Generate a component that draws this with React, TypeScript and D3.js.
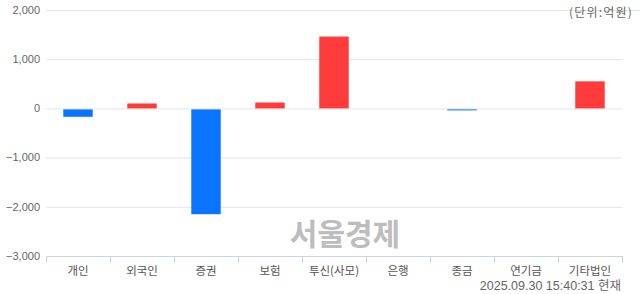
import React from "react";
import * as d3 from "d3";

const categories = ["개인", "외국인", "증권", "보험", "투신(사모)", "은행", "종금", "연기금", "기타법인"];
const values = [-150, 100, -2130, 120, 1460, 0, -20, 0, 550];
const yTicks = [2000, 1000, 0, -1000, -2000, -3000];
const unitLabel = "(단위:억원)";
const timeLabel = "2025.09.30 15:40:31 현재";
const watermark = "서울경제";

const W = 640, H = 294;
const M = { left: 46, right: 18, top: 10, bottom: 38 };
const FONT = "'Noto Sans CJK KR', 'Noto Sans', sans-serif";
const NUMFONT = "'Liberation Sans', 'Noto Sans CJK KR', sans-serif";

export default function App() {
  const x = d3.scaleBand<string>().domain(categories).range([M.left, W - M.right]).paddingInner(0.54).paddingOuter(0.27);
  const band = d3.scaleBand<string>().domain(categories).range([M.left, W - M.right]);
  const y = d3.scaleLinear().domain([-3000, 2000]).range([H - M.bottom, M.top]);
  const fmt = d3.format(",");
  const y0 = y(0);
  return (
    <svg width={W} height={H} style={{ position: "absolute", left: 0, top: 0, background: "#fff" }} fontFamily={FONT}>
      {yTicks.map((t) => (
        <g key={t}>
          {t !== -3000 && (
            <line x1={M.left} x2={t === 2000 ? W : W - M.right} y1={y(t) + 0.5} y2={y(t) + 0.5} stroke="#e3e3e3" strokeWidth={1} />
          )}
          <text x={40} y={y(t)} dy="0.35em" textAnchor="end" fontSize={11} fill="#666" fontFamily={NUMFONT}>{fmt(t)}</text>
        </g>
      ))}
      <text x={633} y={17} textAnchor="end" fontSize={12} letterSpacing={1.2} fill="#666">{unitLabel}</text>
      <text x={345} y={234} dy="0.35em" textAnchor="middle" fontSize={30} fontWeight="bold" fill="#bdbdbd">{watermark}</text>
      {categories.map((c, i) => {
        const v = values[i];
        const top = v >= 0 ? y(v) : y0 + 1;
        const h = v >= 0 ? y0 - y(v) : y(v) - y0;
        return (
          <rect key={c} x={x(c)} y={top} width={x.bandwidth()} height={Math.max(h, v === 0 ? 0 : 1)} fill={v >= 0 ? "#ff3b3b" : "#0a73ff"} />
        );
      })}
      <line x1={M.left} x2={W - M.right} y1={y(-3000) + 0.5} y2={y(-3000) + 0.5} stroke="#c9d3e3" />
      {categories.map((c) => (
        <line key={"t" + c} x1={Math.round(band(c)!) + 0.5} x2={Math.round(band(c)!) + 0.5} y1={y(-3000)} y2={y(-3000) + 7} stroke="#c9d3e3" />
      ))}
      <line x1={W - M.right + 0.5} x2={W - M.right + 0.5} y1={y(-3000)} y2={y(-3000) + 7} stroke="#c9d3e3" />
      {categories.map((c) => (
        <text key={"l" + c} x={band(c)! + band.bandwidth() / 2} y={271} dy="0.35em" textAnchor="middle" fontSize={11.5} fill="#555">{c}</text>
      ))}
      <text x={621} y={286} dy="0.35em" textAnchor="end" fontSize={12.5} fill="#666" fontFamily={NUMFONT}>{timeLabel}</text>
    </svg>
  );
}
